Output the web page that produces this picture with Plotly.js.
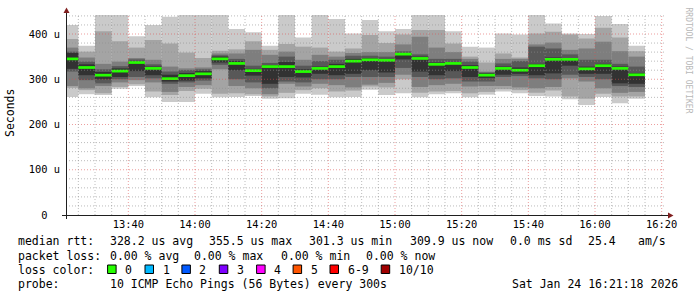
<!DOCTYPE html>
<html><head><meta charset="utf-8">
<script src="https://cdn.plot.ly/plotly-3.0.1.min.js"></script>
<style>html,body{margin:0;padding:0;background:#fff}#chart{width:697px;height:297px}</style>
</head><body><div id="chart"></div>
<script>
// ---- data (microseconds) ----
const day = '2026-01-24';
const barEnd = ['13:25','13:30','13:35','13:40','13:45','13:50','13:55','14:00','14:05','14:10',
                '14:15','14:20','14:25','14:30','14:35','14:40','14:45','14:50','14:55','15:00',
                '15:05','15:10','15:15','15:20','15:25','15:30','15:35','15:40','15:45','15:50',
                '15:55','16:00','16:05','16:10','16:15'];
const ping1  = [261,267,265,279,285,260,250,250,268,260,261,263,257,258,268,266,260,261,277,265,269,260,267,269,260,266,273,269,263,262,256,243,261,247,257];
const ping2  = [281,276,269,283,289,273,265,274,279,268,269,267,262,270,276,280,273,275,284,282,300,270,273,274,269,272,278,276,270,275,262,257,268,262,262];
const ping3  = [285,280,285,293,298,293,272,283,287,322,285,280,267,290,284,290,287,282,288,292,310,283,287,290,284,285,285,282,280,283,302,295,280,270,272];
const ping4  = [317,298,291,300,305,302,290,293,297,332,300,293,280,295,293,300,300,305,305,305,325,305,300,302,295,295,305,307,302,300,310,305,300,285,283];
const ping5  = [323,309,300,305,318,309,295,297,302,337,320,308,290,305,304,312,309,312,320,315,344,317,309,318,305,303,310,312,309,313,330,312,312,291,290];
const ping6  = [358,333,316,324,340,328,310,314,318,350,340,323,331,338,322,328,334,345,347,345,358,350,337,338,331,313,328,326,334,348,347,328,334,328,314];
const ping7  = [361,339,322,329,344,333,317,320,322,353,345,330,336,350,330,340,343,352,352,350,362,355,345,345,339,315,335,340,372,368,355,343,343,334,328];
const ping8  = [370,348,334,339,347,343,328,324,326,357,357,365,354,361,343,354,350,358,360,360,377,394,370,360,345,317,345,345,377,381,365,368,383,362,350];
const ping9  = [389,361,406,384,370,387,379,359,347,363,366,384,365,378,372,370,361,368,398,380,399,409,409,379,350,337,357,348,401,405,399,390,414,392,362];
const ping10 = [420,374,450,450,395,420,438,450,450,450,411,404,374,450,392,450,433,401,431,406,411,450,450,406,372,370,401,399,450,423,401,400,440,422,374];
const median = [345,326,309,318,337,324,301.3,308,312,345,335,319,328,328,317,324,328,340,343,342,355.5,346,333,335,326,309,324,320,330,344,344,323,330,324,309.9];

const yTickVals = [0,100,200,300,400];
const yTickText = ['0\u00a0\u00a0','100 u','200 u','300 u','400 u'];
const smokeColors = ['#cacaca','#a4a4a4','#7e7e7e','#585858','#323232'];
const lossLabels = ['0','1','2','3','4','5','6-9','10/10'];
const lossColors = ['#26ff00','#00b8ff','#0059ff','#7e00ff','#ff00ff','#ff5500','#ff0000','#a00000'];

// ---- geometry helpers (pixel -> paper) ----
const L = 66, R = 31, T = 15, B = 82, W = 697, H = 297;
const PW = W - L - R, PH = H - T - B;
const px = x => (x - L) / PW;
const py = y => (T + PH - y) / PH;

const xs = barEnd.map(t => day + ' ' + t + ':00');
const pings = [ping1,ping2,ping3,ping4,ping5,ping6,ping7,ping8,ping9,ping10];
const STEP = 300000;

const traces = [];
for (let i = 0; i < 5; i++) {
  const lo = pings[i], hi = pings[9 - i];
  traces.push({
    type: 'bar', x: xs, base: lo, y: hi.map((v, k) => v - lo[k]),
    width: STEP, offset: -STEP,
    marker: {color: smokeColors[i], line: {width: 0}},
    hoverinfo: 'skip', showlegend: false
  });
}
const MED = 6;
traces.push({
  type: 'bar', x: xs, base: median.map(v => v - MED / 2), y: median.map(() => MED),
  width: STEP, offset: -STEP,
  marker: {color: lossColors[0], line: {width: 0}},
  hoverinfo: 'skip', showlegend: false
});

// ---- grid drawn on top, like rrdtool ----
const shapes = [];
const gridMinor = 'rgba(143,143,143,0.6)';
const gridMajor = 'rgba(222,79,79,0.55)';
for (let v = 20; v <= 440; v += 20) {
  const major = v % 100 === 0;
  shapes.push({type: 'line', layer: 'above', xref: 'paper', yref: 'y', x0: 0, x1: 1, y0: v, y1: v,
    line: {color: major ? gridMajor : gridMinor, width: 1, dash: '1px,2px'}});
}
const t0 = new Date(day + 'T13:25:00Z').getTime();
for (let k = 0; k < 36; k++) {
  const t = new Date(t0 + k * STEP);
  const hh = String(t.getUTCHours()).padStart(2, '0'), mm = String(t.getUTCMinutes()).padStart(2, '0');
  const major = t.getUTCMinutes() % 20 === 0;
  const xv = day + ' ' + hh + ':' + mm + ':00';
  shapes.push({type: 'line', layer: 'above', xref: 'x', yref: 'paper', x0: xv, x1: xv, y0: 0, y1: 1,
    line: {color: major ? gridMajor : gridMinor, width: 1, dash: '1px,2px'}});
}
// axes + arrows
shapes.push({type: 'line', layer: 'above', xref: 'paper', yref: 'paper', x0: px(62), x1: px(670), y0: py(215.5), y1: py(215.5), line: {color: '#1f1f1f', width: 1}});
shapes.push({type: 'line', layer: 'above', xref: 'paper', yref: 'paper', x0: px(66.5), x1: px(66.5), y0: py(219), y1: py(11), line: {color: '#1f1f1f', width: 1}});
shapes.push({type: 'path', layer: 'above', xref: 'paper', yref: 'paper',
  path: `M ${px(668)} ${py(212.5)} L ${px(668)} ${py(218.5)} L ${px(673.5)} ${py(215.5)} Z`,
  fillcolor: '#801f1f', line: {width: 0}});
shapes.push({type: 'path', layer: 'above', xref: 'paper', yref: 'paper',
  path: `M ${px(63.5)} ${py(13)} L ${px(69.5)} ${py(13)} L ${px(66.5)} ${py(7.5)} Z`,
  fillcolor: '#801f1f', line: {width: 0}});

// ---- legend text ----
const FONT = 'DejaVu Sans Mono';
const annotations = [];
const txt = (x, y, s, opt = {}) => annotations.push(Object.assign({
  xref: 'paper', yref: 'paper', x: px(x), y: py(y), text: s, showarrow: false,
  xanchor: 'left', yanchor: 'middle', font: {family: FONT, size: 11.5, color: '#000'}
}, opt));

txt(16, 241, 'median rtt:');
txt(107.6, 241, '328.2 us avg');
txt(207.3, 241, '355.5 us max');
txt(307.4, 241, '301.3 us min');
txt(408, 241, '309.9 us now');
txt(508, 241, '0.0 ms sd');
txt(586, 241, '25.4');
txt(635.7, 241, 'am/s');

txt(16, 256, 'packet loss:');
txt(107.6, 256, '0.00 % avg');
txt(192.4, 256, '0.00 % max');
txt(279, 256, '0.00 % min');
txt(364.4, 256, '0.00 % now');

txt(16, 269.5, 'loss color:');
const boxX = [107.6, 145, 181.9, 219.3, 256.6, 293.1, 330, 381.2];
lossLabels.forEach((lab, i) => {
  shapes.push({type: 'rect', xref: 'paper', yref: 'paper', x0: px(boxX[i]), x1: px(boxX[i] + 8.5),
    y0: py(265), y1: py(273.5), fillcolor: lossColors[i], line: {color: '#000', width: 1}});
  txt(boxX[i] + 15.5, 269.5, lab);
});

txt(16, 283.5, 'probe:');
txt(107.6, 283.5, '10 ICMP Echo Pings (56 Bytes) every 300s');
txt(680, 283.5, 'Sat Jan 24 16:21:18 2026', {xanchor: 'right'});

// y title & watermark
txt(10, 113, 'Seconds', {xanchor: 'center', textangle: -90, font: {family: FONT, size: 11.5, color: '#000'}});
txt(687.5, 60, 'RRDTOOL / TOBI OETIKER', {xanchor: 'center', textangle: 90, font: {family: FONT, size: 8, color: '#b8b8b8'}});

const layout = {
  width: W, height: H,
  margin: {l: L, r: R, t: T, b: B, pad: 0},
  paper_bgcolor: '#fff', plot_bgcolor: '#fff',
  barmode: 'overlay', showlegend: false,
  font: {family: FONT, size: 10.4, color: '#000'},
  xaxis: {
    type: 'date', range: [day + ' 13:21:18', day + ' 16:21:18'],
    tick0: day + ' 13:40:00', dtick: 1200000, tickformat: '%H:%M',
    showgrid: false, zeroline: false, showline: false, ticks: '', ticklabelstandoff: 2,
    tickfont: {family: FONT, size: 10.4, color: '#000'}, fixedrange: true
  },
  yaxis: {
    range: [0, 442], tickvals: yTickVals, ticktext: yTickText,
    showgrid: false, zeroline: false, showline: false, ticks: '', ticklabelstandoff: 5,
    tickfont: {family: FONT, size: 10.4, color: '#000'}, fixedrange: true
  },
  shapes: shapes, annotations: annotations
};

Plotly.newPlot('chart', traces, layout, {displayModeBar: false, staticPlot: true});
</script>
</body></html>
